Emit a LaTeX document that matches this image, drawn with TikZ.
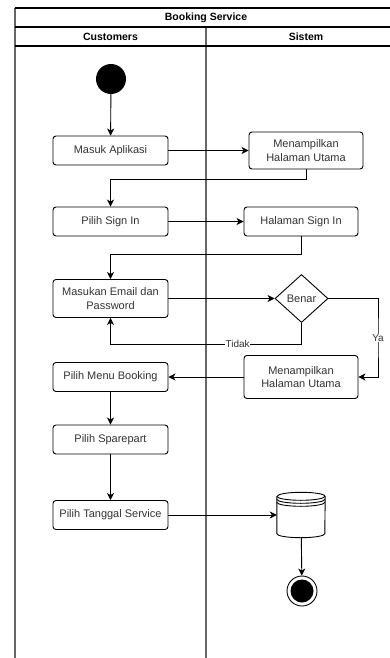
\documentclass[tikz,border=0pt]{standalone}
\usepackage{fontspec}
\setmainfont{Liberation Sans}
\usetikzlibrary{arrows.meta,shapes.geometric,calc}
\tikzstyle{act} = [rectangle, rounded corners=3pt, draw=black, line width=0.9pt, minimum width=115pt, minimum height=29pt, inner sep=0pt, align=center, text=black!80, font=\fontsize{11}{13.5}\selectfont]
\tikzstyle{arrow} = [line width=0.9pt,-{Stealth[length=7pt,width=7pt,inset=2pt]}]
\tikzstyle{line} = [line width=0.9pt]
\tikzstyle{lane} = [line width=1.3pt, black!60]
\tikzstyle{head} = [line width=1.3pt, black]
\tikzstyle{lbl} = [fill=white, inner sep=0.5pt, text=black!80, font=\fontsize{10}{12}\selectfont]

\begin{document}
\begin{tikzpicture}[x=1pt,y=-1pt]
\useasboundingbox (0,0) rectangle (390,658);
% swimlanes
\draw[lane] (15,8)--(15,658);
\draw[lane] (206,27)--(206,658);
\draw[head] (15,8)--(390,8);
\draw[head] (15,27)--(390,27);
\draw[head] (15,46)--(390,46);
\node (title) [font=\bfseries\fontsize{10.5}{12}\selectfont] at (206,17.5) {Booking Service};
\node (lanec) [font=\bfseries\fontsize{10.5}{12}\selectfont] at (110.5,36.5) {Customers};
\node (lanes) [font=\bfseries\fontsize{10.5}{12}\selectfont] at (306,36.5) {Sistem};
% customers
\node (start) [circle, fill=black, minimum size=30pt, inner sep=0pt] at (111,79) {};
\node (masuk) [act] at (110.5,150.5) {Masuk Aplikasi};
\node (signin) [act] at (110.5,221.5) {Pilih Sign In};
\node (masukan) [act, minimum height=38pt] at (110.5,298.5) {Masukan Email dan\\Password};
\node (booking) [act] at (110.5,377) {Pilih Menu Booking};
\node (spare) [act] at (110.5,439.5) {Pilih Sparepart};
\node (tanggal) [act] at (110.5,515) {Pilih Tanggal Service};
% sistem
\node (men1) [act, minimum width=114pt, minimum height=37pt] at (306,150.5) {Menampilkan\\Halaman Utama};
\node (halsign) [act, minimum width=114pt] at (301,221.5) {Halaman Sign In};
\node (benar) [diamond, draw=black, line width=0.9pt, minimum width=53pt, minimum height=48pt, inner sep=0pt, text=black!80, font=\fontsize{11}{13}\selectfont] at (301.5,298.5) {Benar};
\node (men2) [act, minimum width=114pt, minimum height=43pt] at (301,377) {Menampilkan\\Halaman Utama};
\node (db) [minimum width=48pt, minimum height=45pt, inner sep=0pt] at (301,515) {};
\node (end) [circle, draw=black, line width=0.9pt, minimum size=30pt, inner sep=0pt] at (302,591) {};
\fill (end.center) circle[radius=11.5pt];
% database
\draw[line, fill=white] ($(db.north west)+(0,4)$) -- ($(db.south west)+(0,-4)$) arc[start angle=180,end angle=360,x radius=24pt,y radius=4pt] -- ($(db.north east)+(0,4)$) arc[start angle=0,end angle=180,x radius=24pt,y radius=4pt];
\draw[line] ($(db.north west)+(0,4)$) arc[start angle=180,end angle=360,x radius=24pt,y radius=4pt];
\draw[line] ($(db.north west)+(0,7)$) arc[start angle=180,end angle=360,x radius=24pt,y radius=4pt];
\draw[line] ($(db.north west)+(0,10)$) arc[start angle=180,end angle=360,x radius=24pt,y radius=4pt];
% flow
\draw[arrow] (start)--(masuk);
\draw[arrow] (masuk)--(men1);
\draw[arrow] (men1.south)--++(0,10)-|(signin.north);
\draw[arrow] (signin)--(halsign);
\draw[arrow] (halsign.south)--++(0,18)-|(masukan.north);
\draw[arrow] (masukan)--(benar);
\draw[arrow] (benar.south)--++(0,21)-|(masukan.south) node[lbl, pos=0.167] {Tidak};
\draw[arrow] (benar.east)-|(378,338) node[lbl] {Ya} |-(men2.east);
\draw[arrow] (men2)--(booking);
\draw[arrow] (booking)--(spare);
\draw[arrow] (spare)--(tanggal);
\draw[arrow] (tanggal)--(db);
\draw[arrow] (db)--(end);
\end{tikzpicture}
\end{document}
